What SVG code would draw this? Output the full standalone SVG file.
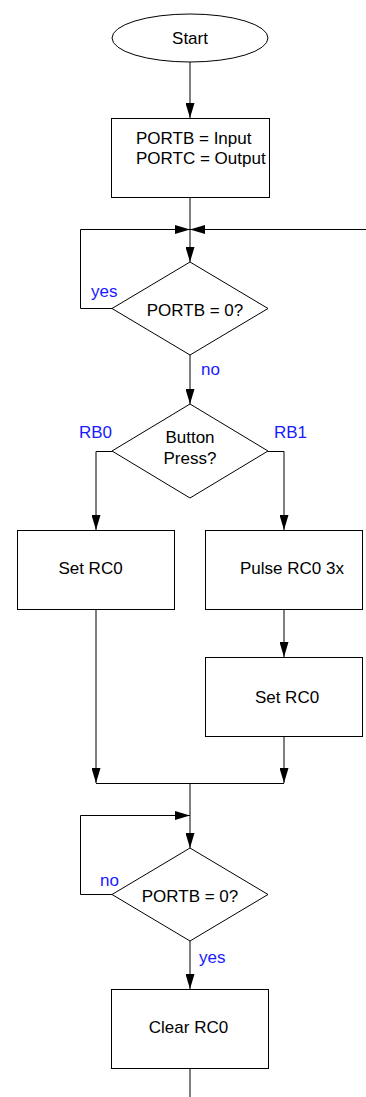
<svg xmlns="http://www.w3.org/2000/svg" width="366" height="1097" viewBox="0 0 366 1097">
  <style>
    .shape { fill: #ffffff; stroke: #000000; stroke-width: 1; }
    .wire { fill: none; stroke: #000000; stroke-width: 1; }
    .lbl { font-family: "Liberation Sans", Arial, Helvetica, sans-serif; font-size: 17px; fill: #000000; }
    .mid { text-anchor: middle; }
    .cond { font-family: "Liberation Sans", Arial, Helvetica, sans-serif; font-size: 17px; fill: #1a1aff; }
  </style>
  <defs>
    <marker id="arrow" viewBox="0 0 15 9" refX="15" refY="4.5" markerWidth="15" markerHeight="9" markerUnits="userSpaceOnUse" orient="auto">
      <path d="M0,0 L15,4.5 L0,9 Z" fill="#000000"/>
    </marker>
  </defs>
  <rect width="366" height="1097" fill="#ffffff"/>

  <!-- connectors -->
  <g id="connectors">
    <path class="wire" d="M190,62 V118" marker-end="url(#arrow)"/>
    <path class="wire" d="M190,197 V229"/>
    <path class="wire" d="M190,229 V262" marker-end="url(#arrow)"/>
    <path class="wire" d="M112,308.5 H80.5 V229.5 H190" marker-end="url(#arrow)"/>
    <path class="wire" d="M366,229.5 H190" marker-end="url(#arrow)"/>
    <path class="wire" d="M190,355 V404" marker-end="url(#arrow)"/>
    <path class="wire" d="M112,451.5 H96 V530" marker-end="url(#arrow)"/>
    <path class="wire" d="M268,451.5 H284 V530" marker-end="url(#arrow)"/>
    <path class="wire" d="M284,609 V657" marker-end="url(#arrow)"/>
    <path class="wire" d="M96,609 V783" marker-end="url(#arrow)"/>
    <path class="wire" d="M284,736 V783" marker-end="url(#arrow)"/>
    <path class="wire" d="M96,783.5 H284"/>
    <path class="wire" d="M190,783 V848" marker-end="url(#arrow)"/>
    <path class="wire" d="M112,894.5 H80.5 V815.5 H190" marker-end="url(#arrow)"/>
    <path class="wire" d="M190,941 V989" marker-end="url(#arrow)"/>
    <path class="wire" d="M190,1068 V1097"/>
    <text class="cond" x="91" y="297">yes</text>
    <text class="cond" x="201" y="375">no</text>
    <text class="cond" x="79" y="438">RB0</text>
    <text class="cond" x="274" y="438">RB1</text>
    <text class="cond" x="100" y="886">no</text>
    <text class="cond" x="199" y="963">yes</text>
  </g>

  <g id="start">
    <ellipse class="shape" cx="190" cy="38" rx="78" ry="24"/>
    <text class="lbl mid" x="190" y="44">Start</text>
  </g>

  <g id="init">
    <rect class="shape" x="111.5" y="118.5" width="158" height="79"/>
    <text class="lbl" x="136" y="144">PORTB = Input</text>
    <text class="lbl" x="136" y="164">PORTC = Output</text>
  </g>

  <g id="wait-release">
    <polygon class="shape" points="190,262 268,308.5 190,355 112,308.5"/>
    <text class="lbl mid" x="195" y="316">PORTB = 0?</text>
  </g>

  <g id="button-press">
    <polygon class="shape" points="190,404 268,451 190,498 112,451"/>
    <text class="lbl mid" x="190" y="443">Button</text>
    <text class="lbl mid" x="190" y="464">Press?</text>
  </g>

  <g id="set-rc0-a">
    <rect class="shape" x="17.5" y="530.5" width="157" height="79"/>
    <text class="lbl mid" x="90.5" y="574">Set RC0</text>
  </g>

  <g id="pulse-rc0">
    <rect class="shape" x="205.5" y="530.5" width="157" height="79"/>
    <text class="lbl mid" x="292" y="574">Pulse RC0 3x</text>
  </g>

  <g id="set-rc0-b">
    <rect class="shape" x="205.5" y="657.5" width="157" height="79"/>
    <text class="lbl mid" x="287" y="703">Set RC0</text>
  </g>

  <g id="wait-zero">
    <polygon class="shape" points="190,848 268,894.5 190,941 112,894.5"/>
    <text class="lbl mid" x="190" y="902">PORTB = 0?</text>
  </g>

  <g id="clear-rc0">
    <rect class="shape" x="111.5" y="989.5" width="157" height="79"/>
    <text class="lbl mid" x="188.5" y="1033">Clear RC0</text>
  </g>
</svg>
